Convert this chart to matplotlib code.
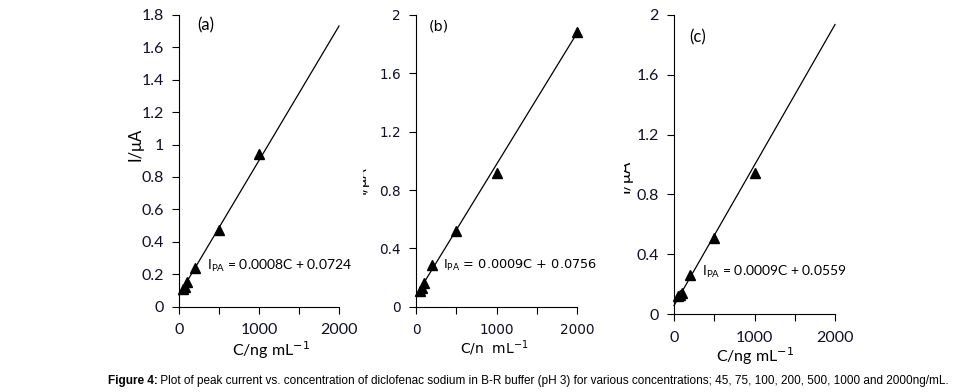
import matplotlib.pyplot as plt
import numpy as np
from matplotlib.patches import Rectangle
from matplotlib.ticker import FixedLocator, FuncFormatter

conc = [45, 75, 100, 200, 500, 1000, 2000]

# peak current (uA); None where the point is not shown
current_a = [0.11, 0.12, 0.15, 0.238, 0.473, 0.943, None]
current_b = [0.11, 0.13, 0.16, 0.286, 0.52, 0.917, 1.885]
current_c = [0.12, 0.13, 0.14, 0.26, 0.51, 0.943, None]

# drawn regression lines (slope, intercept) and printed equations
fit_lines = [(0.00083, 0.072), (0.00090, 0.0756), (0.00094, 0.056)]
equations = ["0.0008C + 0.0724", "0.0009C + 0.0756", "0.0009C + 0.0559"]
panel_tags = ["(a)", "(b)", "(c)"]
y_limits = [1.8, 2.0, 2.0]
y_ticks = [
    [0, 0.2, 0.4, 0.6, 0.8, 1, 1.2, 1.4, 1.6, 1.8],
    [0, 0.4, 0.8, 1.2, 1.6, 2],
    [0, 0.4, 0.8, 1.2, 1.6, 2],
]
x_ticks = [0, 500, 1000, 1500, 2000]
x_labels = ["C/ng mL$^{-1}$", "C/n  mL$^{-1}$", "C/ng mL$^{-1}$"]
caption_bold = "Figure 4:"
caption = (" Plot of peak current vs. concentration of diclofenac sodium in B-R buffer"
           " (pH 3) for various concentrations; 45, 75, 100, 200, 500, 1000 and 2000ng/mL.")

W, H = 971, 392
fig = plt.figure(figsize=(W / 100, H / 100), dpi=100)

# axes boxes in pixels: left, right, top, bottom
boxes = [(179, 339, 15, 306.5), (416, 577, 15, 306.7), (674, 835, 15, 314)]
fonts = [["Lato", "DejaVu Sans"], ["DejaVu Sans"], ["Lato", "DejaVu Sans"]]
font_sizes = [11, 9.3, 11]
eq_sizes = [10, 9.3, 10]
xlab_sizes = [11.5, 10, 11.5]
tag_pos = [(197, 25), (429, 26), (689, 37)]
eq_pos = [(207, 266), (443, 265), (702, 272)]
xlab_pos = [(271, 350), (494, 348), (755, 356)]
ylab_pos = [(135, 144), (362, 180), (625, 176)]
# white strip hiding part of the y label: x0, x1, y0, y1 in pixels
ylab_cover = [None, (350, 363, 160, 200), (610, 624, 155, 200)]

series = [current_a, current_b, current_c]

for i in range(3):
    left, right, top, bottom = boxes[i]
    ax = fig.add_axes([left / W, 1 - bottom / H, (right - left) / W, (bottom - top) / H])
    fam = fonts[i]
    fs = font_sizes[i]

    xs = [c for c, v in zip(conc, series[i]) if v is not None]
    ys = [v for v in series[i] if v is not None]
    slope, icpt = fit_lines[i]
    line_x = np.array([0, 2000])
    ax.plot(line_x, slope * line_x + icpt, color="black", lw=0.9, clip_on=False)
    ax.plot(xs, ys, linestyle="none", marker="^", color="black", markersize=7,
            clip_on=False)

    ax.set_xlim(0, 2000)
    ax.set_ylim(0, y_limits[i])
    ax.spines[["top", "right"]].set_visible(False)
    ax.xaxis.set_major_locator(FixedLocator(x_ticks))
    ax.xaxis.set_major_formatter(
        FuncFormatter(lambda v, p: f"{v:.0f}" if v % 1000 == 0 else ""))
    ax.yaxis.set_major_locator(FixedLocator(y_ticks[i]))
    ax.yaxis.set_major_formatter(FuncFormatter(lambda v, p: f"{v:g}"))
    ax.tick_params(axis="x", direction="out", length=5, pad=7, labelsize=fs + 0.5)
    ax.tick_params(axis="y", direction="out", length=5, pad=6, labelsize=fs + 0.5)
    for lab in ax.get_xticklabels() + ax.get_yticklabels():
        lab.set_family(fam)
        lab.set_color("#101028")

    tx, ty = tag_pos[i]
    fig.text(tx / W, 1 - ty / H, panel_tags[i], family=fam, fontsize=fs + 1,
             va="center", ha="left")
    ex, ey = eq_pos[i]
    fig.text(ex / W, 1 - ey / H, "I$_{\\mathregular{PA}}$ = " + equations[i],
             family=fam, fontsize=eq_sizes[i], va="center", ha="left")
    xx, xy = xlab_pos[i]
    fig.text(xx / W, 1 - xy / H, x_labels[i], family=fam, fontsize=xlab_sizes[i],
             va="center", ha="center")
    yx, yy = ylab_pos[i]
    fig.text(yx / W, 1 - yy / H, "I/μA", family=fam, fontsize=fs + 1,
             rotation=90, va="center", ha="center")
    if ylab_cover[i]:
        x0, x1, y0, y1 = ylab_cover[i]
        fig.add_artist(Rectangle((x0 / W, 1 - y1 / H), (x1 - x0) / W, (y1 - y0) / H,
                                 transform=fig.transFigure, facecolor="white",
                                 edgecolor="none", zorder=10))

fig.text(108 / W, 1 - 381 / H, caption_bold, family=["Liberation Sans Narrow", "Liberation Sans"],
         fontsize=8.5, weight="bold", va="center", ha="left")
fig.text(157 / W, 1 - 381 / H, caption, family=["Liberation Sans Narrow", "Liberation Sans"],
         fontsize=8.5, va="center", ha="left")

fig.savefig("out.png", dpi=100)
